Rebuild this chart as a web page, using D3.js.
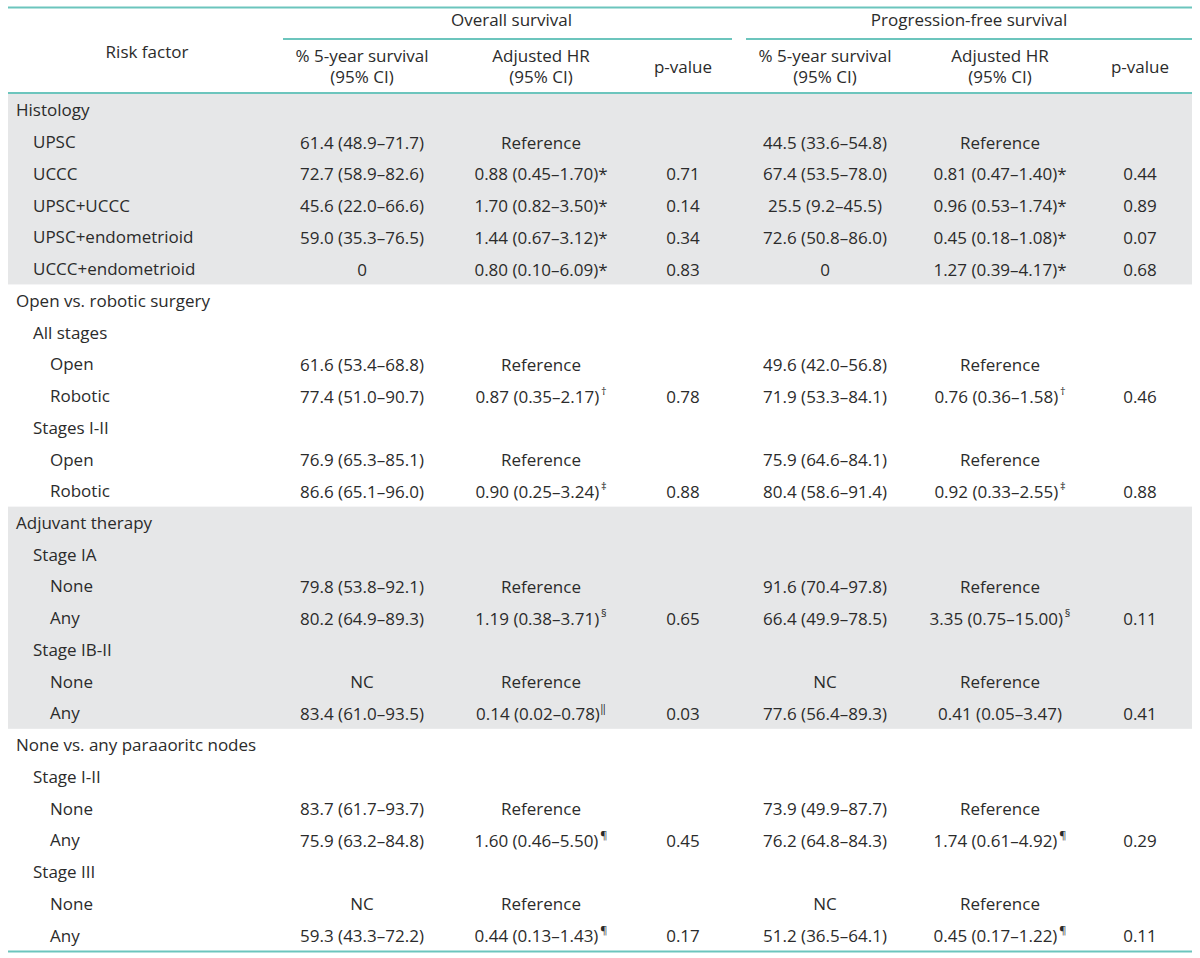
<!DOCTYPE html>
<html><head><meta charset="utf-8">
<script src="https://cdn.jsdelivr.net/npm/d3@7"></script>
<style>
html,body{margin:0;padding:0;background:#fff;}
text{font-family:"Open Sans","Noto Sans",sans-serif;fill:#2b2b2b;}
</style></head>
<body><svg id="c" width="1200" height="958"></svg>
<script>
// ---- data ----
const groupHeaders = ["Overall survival", "Progression-free survival"];
const columnHeaders = [["% 5-year survival","(95% CI)"],["Adjusted HR","(95% CI)"],["p-value"],["% 5-year survival","(95% CI)"],["Adjusted HR","(95% CI)"],["p-value"]];
const riskFactors = ["Histology","UPSC","UCCC","UPSC+UCCC","UPSC+endometrioid","UCCC+endometrioid",
 "Open vs. robotic surgery","All stages","Open","Robotic","Stages I-II","Open","Robotic",
 "Adjuvant therapy","Stage IA","None","Any","Stage IB-II","None","Any",
 "None vs. any paraaoritc nodes","Stage I-II","None","Any","Stage III","None","Any"];
const indentLevels = [0,1,1,1,1,1, 0,1,2,2,1,2,2, 0,1,2,2,1,2,2, 0,1,2,2,1,2,2];
const shadedGroups = [[0,5],[13,19]];
const os5yr = ["","61.4 (48.9–71.7)","72.7 (58.9–82.6)","45.6 (22.0–66.6)","59.0 (35.3–76.5)","0",
 "","","61.6 (53.4–68.8)","77.4 (51.0–90.7)","","76.9 (65.3–85.1)","86.6 (65.1–96.0)",
 "","","79.8 (53.8–92.1)","80.2 (64.9–89.3)","","NC","83.4 (61.0–93.5)",
 "","","83.7 (61.7–93.7)","75.9 (63.2–84.8)","","NC","59.3 (43.3–72.2)"];
const osHR = ["","Reference","0.88 (0.45–1.70)*","1.70 (0.82–3.50)*","1.44 (0.67–3.12)*","0.80 (0.10–6.09)*",
 "","","Reference","0.87 (0.35–2.17)","","Reference","0.90 (0.25–3.24)",
 "","","Reference","1.19 (0.38–3.71)","","Reference","0.14 (0.02–0.78)",
 "","","Reference","1.60 (0.46–5.50)","","Reference","0.44 (0.13–1.43)"];
const osHRNote = ["","","","","","", "","","","†","","","‡", "","","","§","","","‖", "","","","¶","","","¶"];
const osP = ["","","0.71","0.14","0.34","0.83", "","","","0.78","","","0.88", "","","","0.65","","","0.03", "","","","0.45","","","0.17"];
const pfs5yr = ["","44.5 (33.6–54.8)","67.4 (53.5–78.0)","25.5 (9.2–45.5)","72.6 (50.8–86.0)","0",
 "","","49.6 (42.0–56.8)","71.9 (53.3–84.1)","","75.9 (64.6–84.1)","80.4 (58.6–91.4)",
 "","","91.6 (70.4–97.8)","66.4 (49.9–78.5)","","NC","77.6 (56.4–89.3)",
 "","","73.9 (49.9–87.7)","76.2 (64.8–84.3)","","NC","51.2 (36.5–64.1)"];
const pfsHR = ["","Reference","0.81 (0.47–1.40)*","0.96 (0.53–1.74)*","0.45 (0.18–1.08)*","1.27 (0.39–4.17)*",
 "","","Reference","0.76 (0.36–1.58)","","Reference","0.92 (0.33–2.55)",
 "","","Reference","3.35 (0.75–15.00)","","Reference","0.41 (0.05–3.47)",
 "","","Reference","1.74 (0.61–4.92)","","Reference","0.45 (0.17–1.22)"];
const pfsHRNote = ["","","","","","", "","","","†","","","‡", "","","","§","","","", "","","","¶","","","¶"];
const pfsP = ["","","0.44","0.89","0.07","0.68", "","","","0.46","","","0.88", "","","","0.11","","","0.41", "","","","0.29","","","0.11"];

// ---- layout ----
const svg = d3.select("#c");
const left = 8, right = 1192;
const teal = "#6cc5bd", shade = "#e6e7e8";
const FS = 17;
const y = d3.scaleBand().domain(d3.range(riskFactors.length)).range([94, 951]).paddingInner(0);
const colX = d3.scaleOrdinal().domain([0,1,2,3,4,5]).range([362, 541, 683, 825, 1000, 1140]);
const indentX = d3.scaleOrdinal().domain([0,1,2]).range([16, 33, 50]);

// shading
svg.selectAll("rect.shade").data(shadedGroups).join("rect")
  .attr("x", left).attr("width", right-left)
  .attr("y", d => y(d[0])).attr("height", d => y(d[1]) + y.bandwidth() - y(d[0]))
  .attr("fill", shade);

// lines
const hline = (x1,x2,yy,w)=>svg.append("line").attr("x1",x1).attr("x2",x2).attr("y1",yy).attr("y2",yy)
  .attr("stroke",teal).attr("stroke-width",w);
hline(left,right,7.5,2);
hline(283,732,39,2);
hline(746,right,39,2);
hline(left,right,93,2);
hline(left,right,951.5,2);

// headers
svg.append("text").attr("x",147).attr("y",51).attr("text-anchor","middle").attr("dominant-baseline","central")
  .attr("font-size",FS).text("Risk factor");
svg.selectAll("text.gh").data(groupHeaders).join("text")
  .attr("x",(d,i)=>i===0?(283+732)/2+4:(746+right)/2).attr("y",19).attr("text-anchor","middle")
  .attr("dominant-baseline","central").attr("font-size",FS).text(d=>d);
columnHeaders.forEach((lines,i)=>{
  const t = svg.append("text").attr("text-anchor","middle").attr("font-size",FS);
  if(lines.length===1){
    t.attr("x",colX(i)).attr("y",66).attr("dominant-baseline","central").text(lines[0]);
  } else {
    lines.forEach((l,j)=>t.append("tspan").attr("x",colX(i)).attr("y",j===0?55:76)
      .attr("dominant-baseline","central").text(l));
  }
});

// body
const rows = svg.selectAll("g.row").data(riskFactors).join("g")
  .attr("transform",(d,i)=>`translate(0,${y(i)+y.bandwidth()/2})`);
rows.append("text").attr("x",(d,i)=>indentX(indentLevels[i])).attr("dominant-baseline","central")
  .attr("font-size",FS).text(d=>d);

const cols = [os5yr, osHR, osP, pfs5yr, pfsHR, pfsP];
const notes = {1: osHRNote, 4: pfsHRNote};
cols.forEach((arr,ci)=>{
  rows.append("text").attr("x",colX(ci)).attr("text-anchor","middle").attr("dominant-baseline","central")
    .attr("font-size",FS)
    .each(function(d,i){
      const t = d3.select(this);
      t.append("tspan").text(arr[i]);
      if(notes[ci] && notes[ci][i]){
        const n = notes[ci][i];
        t.append("tspan").attr("font-size",11).attr("dy",-6).text((n==="‖"?"":"\u2009")+n);
      }
    });
});
</script></body></html>
